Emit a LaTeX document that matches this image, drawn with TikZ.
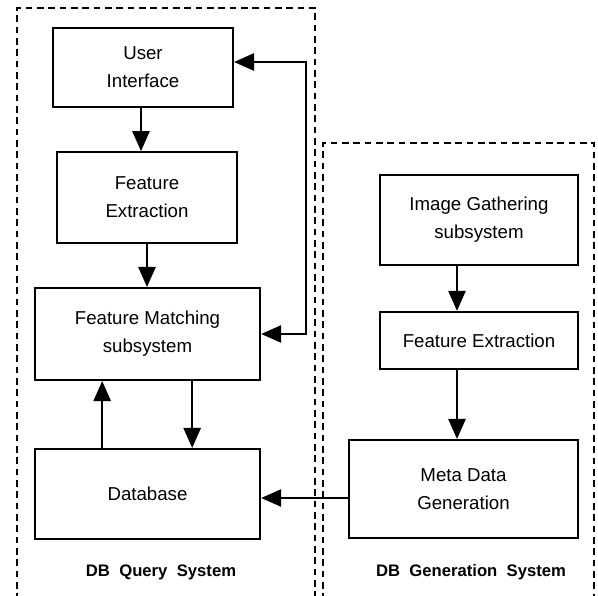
\documentclass[tikz,border=0pt]{standalone}
\usepackage{fontspec}
\setmainfont{Liberation Sans}
\usetikzlibrary{positioning}
\usetikzlibrary{calc}
\usetikzlibrary{arrows.meta}

\begin{document}
\begin{tikzpicture}[x=0.75pt,y=-0.75pt,>={Triangle[length=15pt,width=13pt]},
		block/.style={draw, line width=1.6pt, align=center, inner sep=0pt, font=\fontsize{14}{21}\selectfont},
		arr/.style={->, line width=1.2pt},
		frame/.style={line width=1pt, dash pattern=on 5pt off 3.5pt},
		title/.style={font=\bfseries\fontsize{12.5}{15}\selectfont, execute at begin node={\spaceskip=7pt plus 1pt\relax}}]
				\useasboundingbox (0,0) rectangle (598,595);
				
				% draw system frames
				\draw[frame] (17,600) -- (17,8) -- (315,8) -- (315,600);
				\draw[frame] (323,600) -- (323,143) -- (594,143) -- (594,600);
				
				% draw query system blocks
				\node[block, minimum width=135pt, minimum height=59pt] (ui) at (143,67.5) {User\\Interface};
				\node[block, minimum width=135pt, minimum height=68pt] (fe1) at (147,197.5) {Feature\\Extraction};
				\node[block, minimum width=169pt, minimum height=69pt] (fm) at (147.5,334) {Feature Matching\\subsystem};
				\node[block, minimum width=169pt, minimum height=67.5pt] (db) at (147.5,494) {Database};
				
				% draw generation system blocks
				\node[block, minimum width=148.5pt, minimum height=67.5pt] (ig) at (479,220) {Image Gathering\\subsystem};
				\node[block, minimum width=148.5pt, minimum height=43pt] (fe2) at (479,340.5) {Feature Extraction};
				\node[block, minimum width=172pt, minimum height=73.5pt] (mdg) at (463.5,489) {Meta Data\\Generation};
				
				% draw titles
				\node[title] (qtitle) at (161,572) {DB Query System};
				\node[title] (gtitle) at (471,572) {DB Generation System};
				
				% draw query arrows
				\draw[arr] ([xshift=-1.5pt]ui.south) -- ([xshift=-1.5pt]ui.south |- fe1.north);
				\draw[arr] (fe1.south) -- (fe1.south |- fm.north);
				\coordinate (ret) at (306,62);
				\draw[arr, <->] (fm.east) -| (ret) -- (ret -| ui.east);
				\draw[arr] ([xshift=33.5pt]fm.south) -- ([xshift=33.5pt]fm.south |- db.north);
				\draw[arr] ([xshift=-34pt]db.north) -- ([xshift=-34pt]db.north |- fm.south);
				
				% draw generation arrows
				\draw[arr] ([xshift=-16.5pt]ig.south) -- ([xshift=-16.5pt]ig.south |- fe2.north);
				\draw[arr] ([xshift=-16.5pt]fe2.south) -- ([xshift=-16.5pt]fe2.south |- mdg.north);
				\draw[arr] ([yshift=-6.75pt]mdg.west) -- ([yshift=-6.75pt]mdg.west -| db.east);
			\end{tikzpicture}
\end{document}
